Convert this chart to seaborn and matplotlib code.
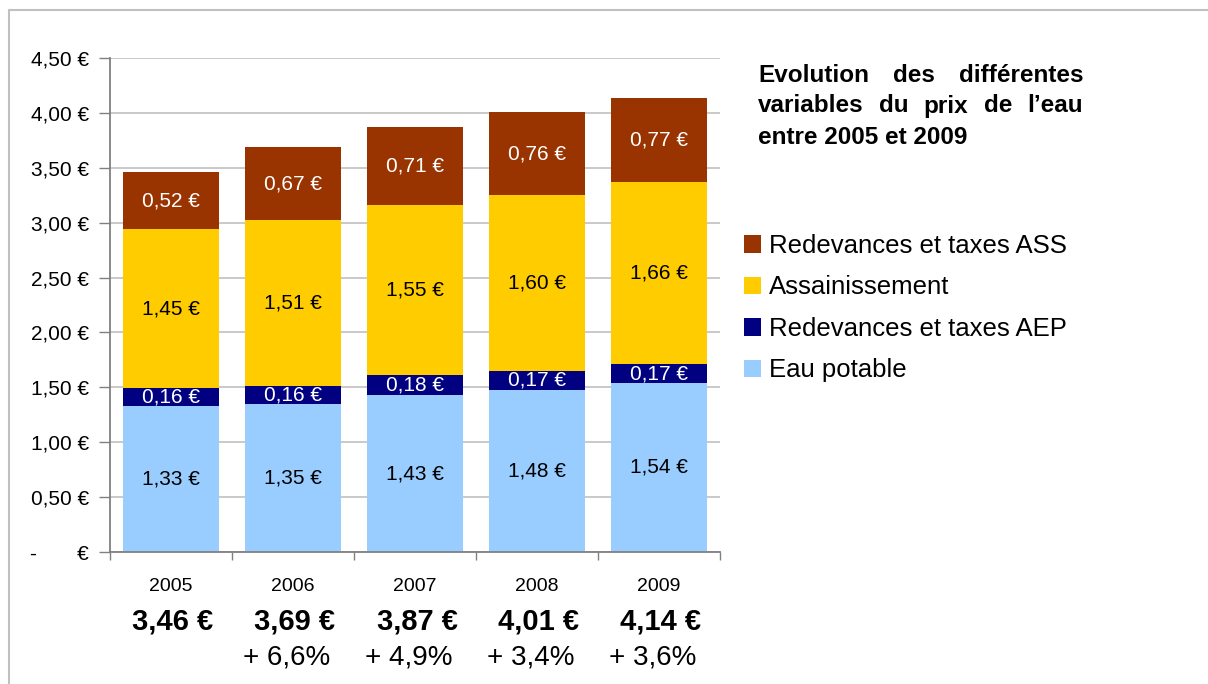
import matplotlib
matplotlib.use("Agg")
import matplotlib.pyplot as plt
import seaborn as sns
import numpy as np
import pandas as pd
from matplotlib.lines import Line2D
from matplotlib.patches import Patch

# ---- data ----
years = ["2005", "2006", "2007", "2008", "2009"]
eau_potable = [1.33, 1.35, 1.43, 1.48, 1.54]
redev_aep = [0.16, 0.16, 0.18, 0.17, 0.17]
assainissement = [1.45, 1.51, 1.55, 1.60, 1.66]
redev_ass = [0.52, 0.67, 0.71, 0.76, 0.77]
totals_labels = ["3,46 €", "3,69 €", "3,87 €", "4,01 €", "4,14 €"]
growth_labels = ["", "+ 6,6%", "+ 4,9%", "+ 3,4%", "+ 3,6%"]
yticks = [0, 0.5, 1.0, 1.5, 2.0, 2.5, 3.0, 3.5, 4.0, 4.5]
ytick_labels = ["-       €", "0,50 €", "1,00 €", "1,50 €", "2,00 €", "2,50 €",
                "3,00 €", "3,50 €", "4,00 €", "4,50 €"]
series_names = ["Eau potable", "Redevances et taxes AEP", "Assainissement",
                "Redevances et taxes ASS"]
colors = ["#99CCFF", "#000080", "#FFCC00", "#993300"]
text_colors = ["#000000", "#FFFFFF", "#000000", "#FFFFFF"]
title_lines = ["Evolution des différentes", "variables du prix de l’eau",
               "entre 2005 et 2009"]

sns.set_theme(style="white")
plt.rcParams["font.family"] = ["Liberation Sans", "DejaVu Sans"]
plt.rcParams["text.color"] = "#000000"
plt.rcParams["xtick.color"] = "#000000"
plt.rcParams["ytick.color"] = "#000000"
plt.rcParams["xtick.labelcolor"] = "#000000"
plt.rcParams["ytick.labelcolor"] = "#000000"

W, H = 1208, 684
fig = plt.figure(figsize=(W / 100, H / 100), dpi=100)
ax = fig.add_axes([110 / W, 1 - 552 / H, 610 / W, (552 - 58) / H])

layers = [eau_potable, redev_aep, assainissement, redev_ass]
cum = np.cumsum(np.array(layers), axis=0)

# draw from top layer down (cumulative heights)
for i in range(3, -1, -1):
    df = pd.DataFrame({"year": years, "val": cum[i]})
    sns.barplot(data=df, x="year", y="val", color=colors[i], saturation=1,
                width=0.78, linewidth=0, edgecolor="none", ax=ax, zorder=2)

# value labels
for i in range(4):
    for j in range(5):
        bottom = cum[i - 1][j] if i > 0 else 0
        mid = bottom + layers[i][j] / 2
        ax.text(j, mid, f"{layers[i][j]:.2f} €".replace(".", ","),
                ha="center", va="center", fontsize=15,
                color=text_colors[i], zorder=5)

ax.set_ylim(0, 4.5)
ax.set_xlim(-0.5, 4.5)
ax.set_yticks(yticks)
ax.set_yticklabels(ytick_labels, fontsize=15, color="#000000")
ax.yaxis.grid(True, color="#C0C0C0", linewidth=1.2, zorder=0)
ax.set_axisbelow(True)
ax.tick_params(axis="y", which="major", left=True, length=8, width=1,
               color="#808080", pad=7, direction="out")
ax.set_xticks(range(5))
ax.set_xticklabels(years, fontsize=14, color="#000000")
ax.tick_params(axis="x", which="major", bottom=False, pad=13)
ax.set_xticks(np.arange(-0.5, 5.0, 1.0), minor=True)
ax.tick_params(axis="x", which="minor", bottom=True, length=6, width=1,
               color="#808080", direction="out")
ax.set_xlabel("")
ax.set_ylabel("")
for s in ["top", "right"]:
    ax.spines[s].set_visible(False)
for s in ["left", "bottom"]:
    ax.spines[s].set_color("#808080")
    ax.spines[s].set_linewidth(1.3)

# totals and growth below
for j in range(5):
    ax.annotate(totals_labels[j], xy=(j, 0), xycoords="data",
                xytext=(2, -70), textcoords="offset pixels",
                ha="center", va="center", fontsize=21, fontweight="bold")
    if growth_labels[j]:
        ax.annotate(growth_labels[j], xy=(j, 0), xycoords="data",
                    xytext=(-6, -105), textcoords="offset pixels",
                    ha="center", va="center", fontsize=20)

# justified title
renderer = fig.canvas.get_renderer()
x_left, x_right = 758, 1083
y_pos = [75, 106, 138]
tsize = 17.5
for k, line in enumerate(title_lines):
    y = 1 - y_pos[k] / H
    if k == len(title_lines) - 1:
        fig.text(x_left / W, y, line, ha="left", va="center",
                 fontsize=tsize, fontweight="bold")
        continue
    words = line.split(" ")
    tmp = [fig.text(0, 0, w, fontsize=tsize, fontweight="bold") for w in words]
    widths = [t.get_window_extent(renderer).width for t in tmp]
    for t in tmp:
        t.remove()
    gap = (x_right - x_left - sum(widths)) / (len(words) - 1)
    x = x_left
    for w, wd in zip(words, widths):
        fig.text(x / W, y, w, ha="left", va="center",
                 fontsize=tsize, fontweight="bold")
        x += wd + gap

# legend
handles = [Patch(facecolor=colors[i], edgecolor="none") for i in range(3, -1, -1)]
labels = [series_names[i] for i in range(3, -1, -1)]
fig.legend(handles, labels, loc="upper left",
           bbox_to_anchor=(744 / W, 1 - 234 / H), frameon=False,
           fontsize=18.5, handlelength=0.68, handleheight=0.68,
           handletextpad=0.28, labelspacing=0.68, borderaxespad=0,
           borderpad=0)

# outer border lines
fig.add_artist(Line2D([9 / W, 9 / W], [0, 1 - 10 / H], transform=fig.transFigure,
                      color="#C0C0C0", linewidth=1.5))
fig.add_artist(Line2D([9 / W, 1], [1 - 10 / H, 1 - 10 / H], transform=fig.transFigure,
                      color="#C0C0C0", linewidth=1.5))

fig.savefig("out.png", dpi=100)
